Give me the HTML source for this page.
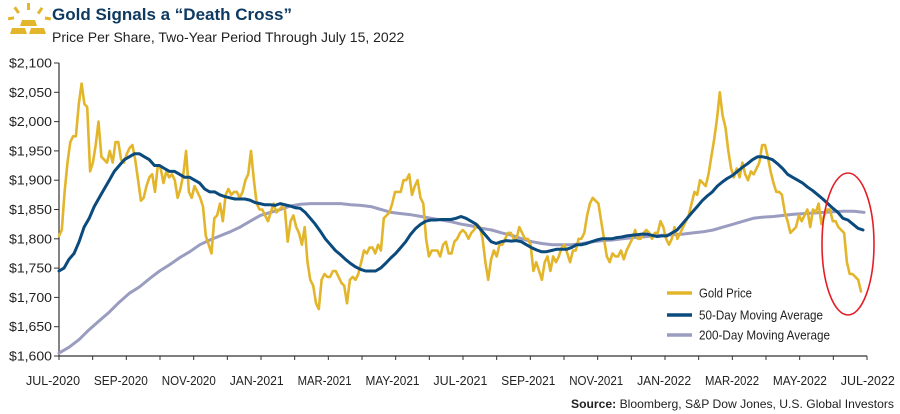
<!DOCTYPE html>
<html><head><meta charset="utf-8"><style>
html,body{margin:0;padding:0;background:#fff;}
svg{display:block;font-family:"Liberation Sans",sans-serif;}
</style></head><body>
<svg id="chart" width="900" height="414" viewBox="0 0 900 414">
  <g fill="#e3b52b">
    <rect x="15" y="7" width="3" height="7" transform="rotate(-35 16 10)"/>
    <rect x="27" y="3" width="3" height="7"/>
    <rect x="39" y="7" width="3" height="7" transform="rotate(35 40 10)"/>
    <rect x="8" y="17" width="6" height="3" transform="rotate(-10 10 18)"/>
    <rect x="45" y="17" width="6" height="3" transform="rotate(10 48 18)"/>
    <polygon points="22,20 35,20 37,26 20,26"/>
    <polygon points="12,28 25,28 27,34 10,34"/>
    <polygon points="31,28 44,28 46,34 29,34"/>
  </g>
  <text x="52" y="20" font-size="17" font-weight="bold" fill="#0e3a61">Gold Signals a “Death Cross”</text>
  <text x="52" y="42" font-size="14" fill="#222">Price Per Share, Two-Year Period Through July 15, 2022</text>
  <g id="axes"></g>
  <g id="series"></g>
  <ellipse cx="848" cy="244" rx="26" ry="71" fill="none" stroke="#e41e26" stroke-width="1.6"/>
  <g font-size="13" fill="#222">
    <line x1="667" y1="293" x2="692" y2="293" stroke="#e3b52b" stroke-width="3.5"/>
    <text x="699" y="297.5" textLength="53" lengthAdjust="spacingAndGlyphs">Gold Price</text>
    <line x1="667" y1="315" x2="692" y2="315" stroke="#0b4a7d" stroke-width="3.5"/>
    <text x="699" y="319.5" textLength="124" lengthAdjust="spacingAndGlyphs">50-Day Moving Average</text>
    <line x1="667" y1="335" x2="692" y2="335" stroke="#9a9cc0" stroke-width="3.5"/>
    <text x="699" y="339.5" textLength="131" lengthAdjust="spacingAndGlyphs">200-Day Moving Average</text>
  </g>
  <text x="894" y="408" font-size="12" text-anchor="end" fill="#222" textLength="323" lengthAdjust="spacingAndGlyphs"><tspan font-weight="bold">Source:</tspan> Bloomberg, S&amp;P Dow Jones, U.S. Global Investors</text>
</svg>
<script>
const yTicks = [1600,1650,1700,1750,1800,1850,1900,1950,2000,2050,2100];
const yTickLabels = ["$1,600","$1,650","$1,700","$1,750","$1,800","$1,850","$1,900","$1,950","$2,000","$2,050","$2,100"];
const monthLabels = ["JUL-2020","SEP-2020","NOV-2020","JAN-2021","MAR-2021","MAY-2021","JUL-2021","SEP-2021","NOV-2021","JAN-2022","MAR-2022","MAY-2022","JUL-2022"];
const goldPrice = [1805,1815,1880,1930,1965,1975,1975,2030,2065,2030,2025,1915,1930,1960,2000,1940,1935,1930,1950,1930,1965,1965,1935,1930,1945,1955,1960,1935,1900,1865,1870,1890,1905,1910,1880,1925,1920,1895,1915,1905,1910,1900,1870,1885,1910,1950,1880,1870,1890,1880,1870,1855,1805,1790,1775,1835,1840,1860,1830,1875,1885,1875,1880,1880,1870,1880,1900,1910,1950,1900,1860,1850,1850,1840,1830,1845,1860,1845,1850,1855,1850,1795,1830,1840,1820,1810,1790,1820,1760,1730,1720,1690,1680,1730,1740,1735,1735,1745,1745,1735,1725,1720,1690,1730,1735,1730,1740,1760,1780,1775,1785,1785,1775,1790,1780,1835,1840,1845,1860,1880,1880,1880,1900,1900,1910,1875,1890,1900,1870,1860,1800,1770,1780,1780,1780,1770,1790,1795,1775,1775,1795,1800,1810,1815,1810,1800,1810,1815,1825,1820,1800,1760,1730,1765,1780,1770,1790,1790,1800,1810,1810,1800,1800,1820,1810,1800,1800,1790,1745,1760,1745,1730,1760,1770,1745,1770,1760,1770,1785,1790,1775,1760,1780,1780,1800,1800,1810,1840,1860,1870,1865,1860,1830,1800,1770,1760,1775,1770,1770,1780,1765,1780,1790,1800,1815,1800,1800,1810,1815,1810,1800,1810,1810,1830,1820,1800,1790,1800,1820,1800,1810,1820,1830,1840,1860,1880,1875,1900,1895,1890,1910,1940,1970,2005,2050,2010,1990,1950,1920,1905,1920,1905,1930,1910,1900,1915,1910,1920,1930,1960,1960,1940,1915,1895,1880,1880,1875,1845,1830,1810,1815,1820,1840,1830,1840,1850,1820,1850,1845,1860,1825,1840,1850,1850,1830,1830,1820,1815,1810,1760,1740,1740,1735,1730,1710];
const ma50 = [1745,1750,1765,1775,1795,1820,1835,1855,1870,1885,1900,1915,1925,1935,1940,1945,1945,1940,1935,1925,1925,1920,1915,1915,1910,1905,1905,1900,1895,1885,1880,1880,1875,1872,1870,1868,1868,1868,1866,1862,1860,1858,1858,1857,1860,1858,1856,1853,1852,1845,1835,1825,1813,1800,1790,1780,1773,1765,1758,1752,1748,1745,1745,1745,1750,1758,1767,1775,1785,1795,1808,1818,1825,1830,1832,1832,1833,1833,1833,1835,1838,1835,1830,1825,1815,1805,1795,1792,1795,1797,1796,1797,1795,1790,1785,1781,1778,1778,1780,1782,1782,1782,1785,1790,1790,1792,1795,1798,1800,1800,1800,1802,1803,1805,1806,1807,1808,1808,1806,1804,1805,1805,1810,1815,1825,1835,1845,1855,1865,1873,1880,1890,1897,1903,1908,1915,1922,1928,1935,1940,1940,1938,1935,1928,1920,1910,1905,1900,1895,1888,1882,1875,1868,1860,1852,1845,1835,1832,1825,1818,1815];
const ma200 = [1605,1615,1628,1645,1660,1675,1692,1707,1718,1732,1745,1756,1768,1778,1790,1798,1805,1812,1820,1830,1840,1845,1850,1856,1859,1860,1860,1860,1860,1858,1857,1855,1850,1845,1843,1841,1838,1835,1832,1829,1825,1822,1818,1815,1810,1806,1800,1795,1792,1790,1790,1790,1792,1795,1797,1798,1800,1802,1803,1805,1806,1807,1808,1810,1812,1815,1820,1825,1830,1835,1837,1838,1840,1842,1843,1844,1845,1846,1847,1847,1845];

const NS = "http://www.w3.org/2000/svg";
const X0 = 59, X1 = 867, Y0 = 356, Y1 = 63;
const yScale = v => Y0 - (v - 1600) / 500 * (Y0 - Y1);
const xScale = (i, n, end) => X0 + i / (n - 1) * (end - X0);
const axes = document.getElementById('axes');
const series = document.getElementById('series');
function mk(tag, attrs, parent) {
  const el = document.createElementNS(NS, tag);
  for (const k in attrs) el.setAttribute(k, attrs[k]);
  parent.appendChild(el);
  return el;
}
let yAxis = mk('line', {x1: X0, y1: Y1, x2: X0, y2: Y0, stroke: '#333', 'stroke-width': 1.2}, axes);


let xAxis = mk('line', {x1: X0, y1: Y0, x2: X1, y2: Y0, stroke: '#333', 'stroke-width': 1.2}, axes);


yTicks.forEach((v, i) => {
  const y = yScale(v);
  const t = mk('line', {x1: X0 - 5, y1: y, x2: X0, y2: y, stroke: '#333', 'stroke-width': 1}, axes);
  
  
  const lb = mk('text', {x: 52, y: y + 4.5, 'text-anchor': 'end', 'font-size': 13, fill: '#222', textLength: 43, lengthAdjust: 'spacingAndGlyphs'}, axes);
  lb.textContent = yTickLabels[i];
  
  
});
for (let m = 0; m <= 24; m++) {
  const x = X0 + m * (X1 - X0) / 24;
  const t = mk('line', {x1: x, y1: Y0, x2: x, y2: Y0 + 4, stroke: '#333', 'stroke-width': 1}, axes);
  
  
}
monthLabels.forEach((s, i) => {
  const lb = mk('text', {x: 53 + i * 67.9, y: 385, 'text-anchor': 'middle', 'font-size': 13, fill: '#222', textLength: 54, lengthAdjust: 'spacingAndGlyphs'}, axes);
  lb.textContent = s;
  
  
});
function path(arr, end, color, w) {
  const d = arr.map((v, i) => (i ? 'L' : 'M') + xScale(i, arr.length, end).toFixed(1) + ',' + yScale(v).toFixed(1)).join('');
  return mk('path', {d: d, fill: 'none', stroke: color, 'stroke-width': w, 'stroke-linejoin': 'round', 'stroke-linecap': 'round'}, series);
}
const p200 = path(ma200, 864, '#9a9cc0', 3);


const pGold = path(goldPrice, 861, '#e3b52b', 2.6);


const p50 = path(ma50, 863, '#0b4a7d', 3);


</script>
</body></html>
